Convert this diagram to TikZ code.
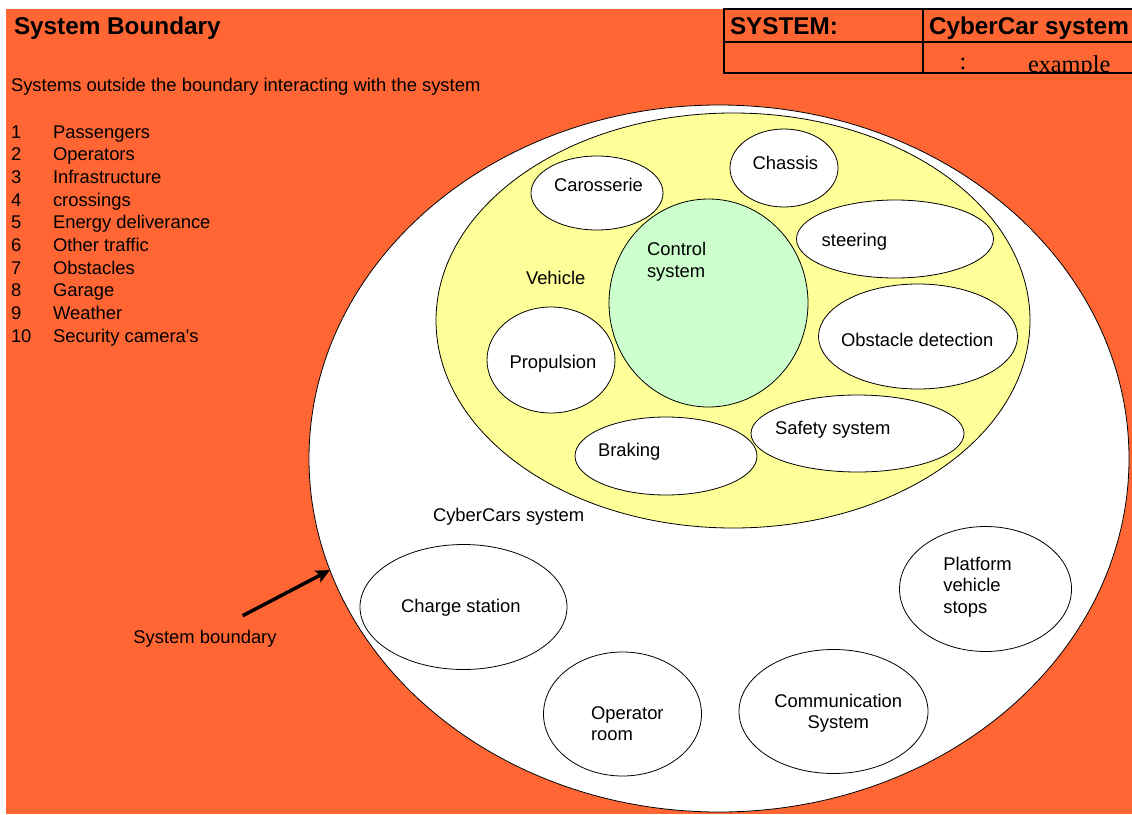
\documentclass[tikz,border=0pt]{standalone}
\usepackage{fontspec}
\setmainfont{Liberation Sans}
\newfontfamily\arialx{Liberation Sans}
\newfontfamily\timesx{Liberation Serif}
\usetikzlibrary{shapes.geometric,arrows.meta}
\definecolor{bgorange}{RGB}{255,102,51}
\definecolor{vehyellow}{RGB}{255,255,153}
\definecolor{ctrlgreen}{RGB}{204,255,204}
\begin{document}
\begin{tikzpicture}[x=1pt,y=-1pt,
  txt/.style={inner sep=0pt, outer sep=0pt, font=\arialx\fontsize{18.4pt}{21.5pt}\selectfont},
  headtxt/.style={inner sep=0pt, outer sep=0pt, font=\arialx\bfseries\fontsize{24.3pt}{28pt}\selectfont},
  sertxt/.style={inner sep=0pt, outer sep=0pt, font=\timesx\fontsize{24.3pt}{28pt}\selectfont},
  blob/.style={ellipse, draw, line width=0.8pt, inner sep=0pt, outer sep=0pt},
  part/.style={blob, fill=white},
  gridline/.style={line width=2pt, line cap=rect}
]
\useasboundingbox (0,0) rectangle (1132,814);
% background sheet
\fill[bgorange] (6,9) rectangle (1132,814);

% header texts
\node[headtxt, anchor=base west] (title) at (14,34.5) {System Boundary};
\node[txt, anchor=base west] (subtitle) at (11,91.5) {Systems outside the boundary interacting with the system};

% list of external systems
\foreach \t [count=\i] in {Passengers, Operators, Infrastructure, crossings,
    Energy deliverance, Other traffic, Obstacles, Garage, Weather, Security camera's}{
  \node[txt, anchor=base west] (num\i) at (11,{138.2+22.67*(\i-1)}) {\i};
  \node[txt, anchor=base west] (item\i) at (53,{138.2+22.67*(\i-1)}) {\t};
}

% system boundary and vehicle
\node[part, minimum width=820pt, minimum height=707pt] (sysb) at (719,458.5) {};
\node[blob, fill=vehyellow, minimum width=594pt, minimum height=415pt] (veh) at (733,320.5) {};
\node[blob, fill=ctrlgreen, minimum width=199pt, minimum height=208pt] (ctrl) at (708.5,303) {};

% vehicle subsystems
\node[part, minimum width=132pt, minimum height=74pt] (caro) at (597,193) {};
\node[part, minimum width=108pt, minimum height=78pt] (chas) at (784,168) {};
\node[part, minimum width=197pt, minimum height=78pt] (steer) at (895,239) {};
\node[part, minimum width=199pt, minimum height=105pt] (obst) at (918,336.5) {};
\node[part, minimum width=128pt, minimum height=106pt] (prop) at (551,360) {};
\node[part, minimum width=213pt, minimum height=77pt] (safe) at (857.5,433.5) {};
\node[part, minimum width=182pt, minimum height=78pt] (brak) at (666,456) {};

% other parts of the system
\node[part, minimum width=207pt, minimum height=125pt] (charge) at (463.5,607) {};
\node[part, minimum width=172pt, minimum height=125pt] (plat) at (985.5,589) {};
\node[part, minimum width=158pt, minimum height=124pt] (oproom) at (622.5,714) {};
\node[part, minimum width=189pt, minimum height=124pt] (comm) at (833.5,711.5) {};

% labels
\node[txt, anchor=west, align=left] (ctrltxt) at (647,261.5) {Control\\system};
\node[txt, anchor=base west] (carotxt) at (554,191.2) {Carosserie};
\node[txt, anchor=base west] (chastxt) at (752.7,169.8) {Chassis};
\node[txt, anchor=base west] (steertxt) at (821.7,246.5) {steering};
\node[txt, anchor=base west] (obsttxt) at (841,346.5) {Obstacle detection};
\node[txt, anchor=base west] (vehtxt) at (526,284.5) {Vehicle};
\node[txt, anchor=base west] (proptxt) at (509.5,368.5) {Propulsion};
\node[txt, anchor=base west] (braktxt) at (598,456.5) {Braking};
\node[txt, anchor=base west] (safetxt) at (775,434.5) {Safety system};
\node[txt, anchor=base west] (cctxt) at (433,521.2) {CyberCars system};
\node[txt, anchor=base west] (chargetxt) at (401,612.2) {Charge station};
\node[txt, anchor=west, align=left] (plattxt) at (943.3,586.9) {Platform\\vehicle\\stops};
\node[txt, anchor=west, align=left] (optxt) at (591,723.8) {Operator\\room};
\node[txt, align=center] (commtxt) at (838.3,713) {Communication\\System};
\node[txt, anchor=base] (bndtxt) at (205,643.5) {System boundary};

% pointer to the boundary
\coordinate (ptail) at (242.7,615.7);
\draw[line width=3.5pt, -{Stealth[length=14pt,width=13pt,inset=3pt]}] (ptail) -- (sysb.196);

% title block
\node[headtxt, anchor=base west] (syslbl) at (730,34.5) {SYSTEM:};
\node[headtxt, anchor=base west] (sysname) at (929,34.5) {CyberCar system};
\node[sertxt, anchor=base] (colon) at (963,69) {:};
\begin{scope}
  \clip (923,42) rectangle (1132,73);
  \node[sertxt, anchor=base west] (extxt) at (1028,72) {example};
\end{scope}
\draw[gridline] (1133,8.5) -- (724,8.5) -- (724,73) -- (1133,73);
\draw[gridline] (724,42) -- (1133,42);
\draw[gridline] (923,8.5) -- (923,73);
\end{tikzpicture}
\end{document}
